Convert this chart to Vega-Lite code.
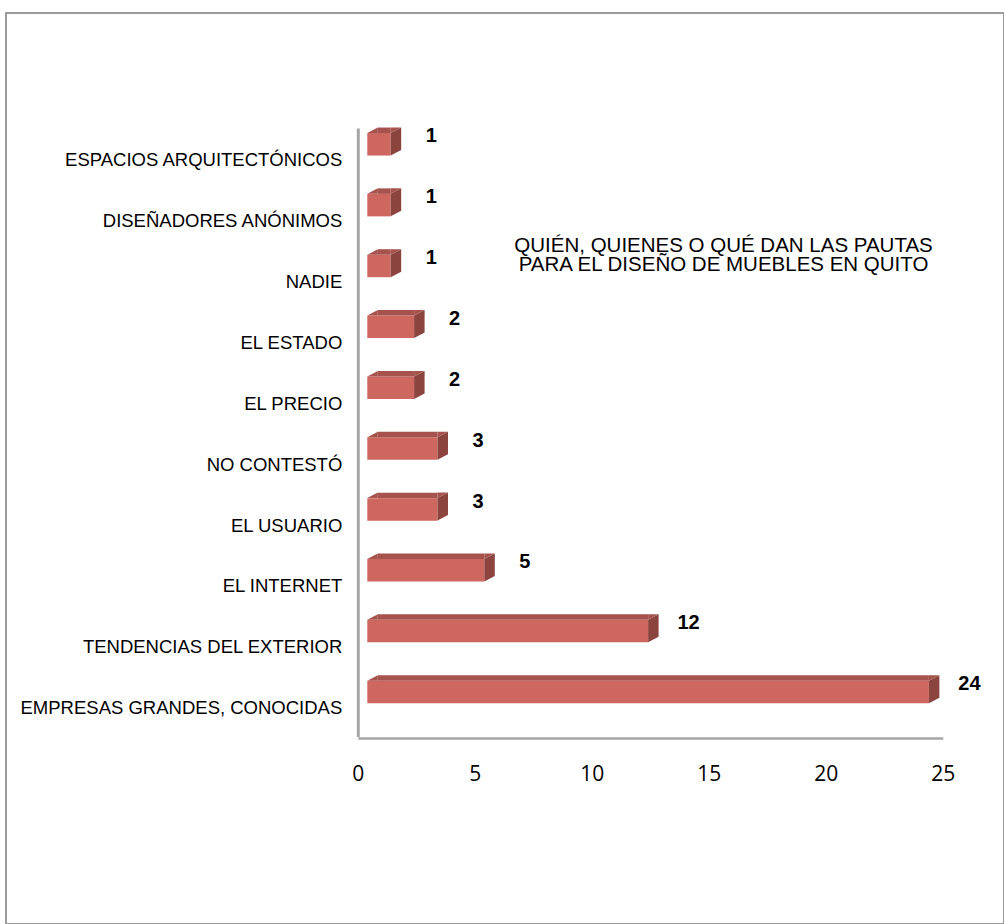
{
  "$schema": "https://vega.github.io/schema/vega-lite/v6.json",
  "width": 998,
  "height": 911,
  "autosize": {"type": "none"},
  "padding": {"left": 6, "top": 13, "right": 0, "bottom": 0},
  "background": "white",
  "config": {
    "view": {"stroke": "#9b9b9b", "strokeWidth": 2},
    "font": "Liberation Sans"
  },
  "data": {
    "values": [
      {"who": "ESPACIOS ARQUITECTÓNICOS", "n": 1},
      {"who": "DISEÑADORES ANÓNIMOS", "n": 1},
      {"who": "NADIE", "n": 1},
      {"who": "EL ESTADO", "n": 2},
      {"who": "EL PRECIO", "n": 2},
      {"who": "NO CONTESTÓ", "n": 3},
      {"who": "EL USUARIO", "n": 3},
      {"who": "EL INTERNET", "n": 5},
      {"who": "TENDENCIAS DEL EXTERIOR", "n": 12},
      {"who": "EMPRESAS GRANDES, CONOCIDAS", "n": 24}
    ]
  },
  "encoding": {
    "y": {
      "field": "who",
      "type": "nominal",
      "sort": null,
      "scale": {
        "domain": ["ESPACIOS ARQUITECTÓNICOS", "DISEÑADORES ANÓNIMOS", "NADIE", "EL ESTADO", "EL PRECIO", "NO CONTESTÓ", "EL USUARIO", "EL INTERNET", "TENDENCIAS DEL EXTERIOR", "EMPRESAS GRANDES, CONOCIDAS"],
        "range": [115, 723.5],
        "paddingInner": 0,
        "paddingOuter": 0
      },
      "axis": {
        "title": null,
        "offset": -351.8,
        "domainColor": "#a6a6a6",
        "domainWidth": 3,
        "ticks": false,
        "tickSize": 0,
        "grid": false,
        "labelFont": "Liberation Sans",
        "labelFontSize": 18.5,
        "labelColor": "#000000",
        "labelPadding": 16,
        "labelOffset": 2,
        "labelLimit": 500
      }
    },
    "x": {
      "field": "n",
      "type": "quantitative",
      "scale": {"domain": [0, 25], "range": [351.8, 936.8], "nice": false, "zero": false},
      "axis": {
        "title": null,
        "values": [0, 5, 10, 15, 20, 25],
        "offset": -186,
        "domainColor": "#a6a6a6",
        "domainWidth": 2.5,
        "ticks": false,
        "tickSize": 0,
        "grid": false,
        "labelFont": "Open Sans",
        "labelFontSize": 21,
        "labelColor": "#000000",
        "labelPadding": 25,
        "labelFlush": false,
        "labelOverlap": false
      }
    }
  },
  "layer": [
    {
      "mark": {"type": "bar", "color": "#CD675F", "height": 22.5, "yOffset": -14.15, "xOffset": 9.5, "x2Offset": 9.5},
      "encoding": {"x2": {"datum": 0}}
    },
    {
      "mark": {"type": "bar", "color": "#A6524D", "height": 5.5, "yOffset": -28.15, "xOffset": 9.5, "x2Offset": 20},
      "encoding": {"x2": {"datum": 0}}
    },
    {
      "mark": {"type": "point", "shape": "M0,-0.794L0,-0.091L0.328,-0.263L0.328,-0.966Z", "size": 4096, "filled": true, "color": "#8C443F", "opacity": 1, "strokeWidth": 0, "xOffset": 9.5},
      "encoding": {}
    },
    {
      "mark": {"type": "point", "shape": "M0,-0.794L0.328,-0.966L0,-0.966Z", "size": 4096, "filled": true, "color": "#A6524D", "opacity": 1, "strokeWidth": 0, "xOffset": 9.5},
      "encoding": {}
    },
    {
      "mark": {"type": "point", "shape": "M0,-0.794L0.328,-0.794L0.328,-0.966Z", "size": 4096, "filled": true, "color": "#A6524D", "opacity": 1, "strokeWidth": 0, "xOffset": 9.5},
      "encoding": {"x": {"datum": 0, "type": "quantitative", "axis": {"title": null}}}
    },
    {
      "mark": {"type": "text", "font": "Liberation Sans", "fontWeight": "bold", "fontSize": 20, "align": "center", "baseline": "middle", "dx": 50, "dy": -22, "color": "#000000"},
      "encoding": {"text": {"field": "n", "type": "quantitative"}}
    },
    {
      "transform": [{"filter": "datum.who === 'NADIE'"}],
      "mark": {"type": "text", "font": "Liberation Sans", "fontSize": 20.5, "lineHeight": 19, "align": "center", "baseline": "alphabetic", "dy": -27.8, "color": "#000000"},
      "encoding": {
        "x": {"datum": 15.63, "type": "quantitative", "axis": {"title": null}},
        "text": {"value": ["QUIÉN, QUIENES O QUÉ DAN LAS PAUTAS", "PARA EL DISEÑO DE MUEBLES EN QUITO"]}
      }
    }
  ]
}
